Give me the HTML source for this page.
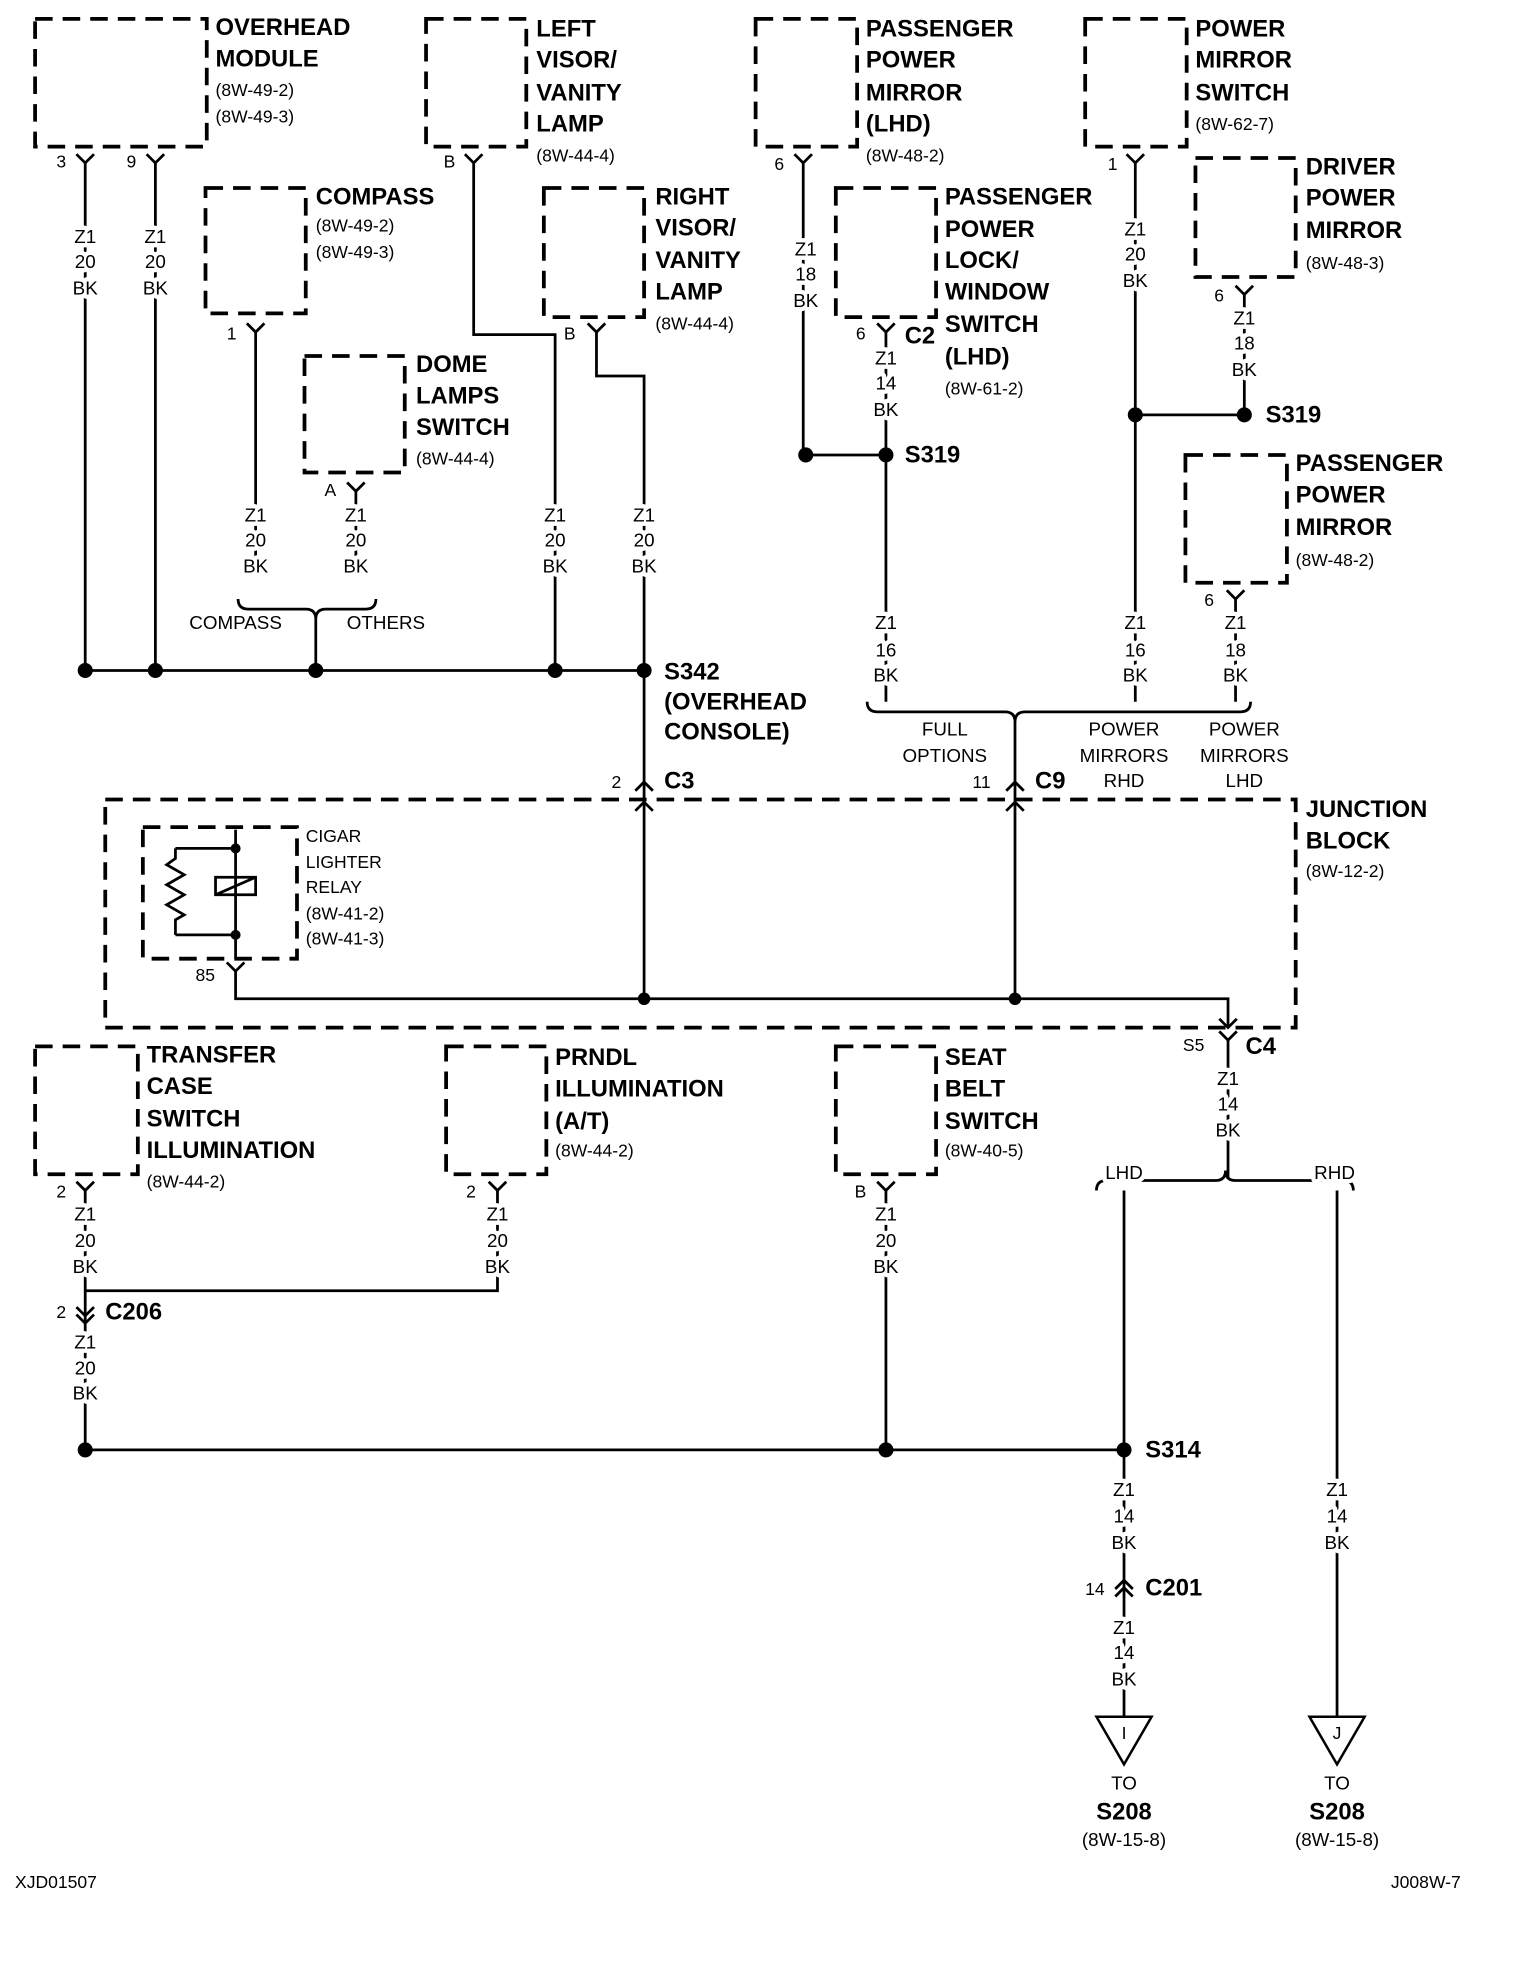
<!DOCTYPE html>
<html><head><meta charset="utf-8"><style>
html,body{margin:0;padding:0;background:#fff;}
svg{display:block;}
.b{font-family:"Liberation Sans",sans-serif;font-weight:bold;font-size:19px;fill:#000;}
.s{font-family:"Liberation Sans",sans-serif;font-size:14px;fill:#000;}
.w{font-family:"Liberation Sans",sans-serif;font-size:15px;fill:#000;text-anchor:middle;stroke:#fff;stroke-width:7;paint-order:stroke;stroke-linejoin:round;}
.d{fill:none;stroke:#000;stroke-width:3;stroke-dasharray:14 8;}
.l{fill:none;stroke:#000;stroke-width:2.2;}
</style></head><body>
<svg width="1520" height="1970" viewBox="0 0 1213 1572" xmlns="http://www.w3.org/2000/svg">
<rect width="1213" height="1572" fill="#fff"/>
<g dominant-baseline="middle">
<rect class="d" x="28" y="15" width="137" height="102"/>
<rect class="d" x="340" y="15" width="80" height="102"/>
<rect class="d" x="164" y="150" width="80" height="100"/>
<rect class="d" x="243" y="284" width="80" height="93"/>
<rect class="d" x="434" y="150" width="80" height="103"/>
<rect class="d" x="603" y="15" width="81" height="102"/>
<rect class="d" x="667" y="150" width="80" height="103"/>
<rect class="d" x="866" y="15" width="81" height="102"/>
<rect class="d" x="954" y="126" width="80" height="95"/>
<rect class="d" x="946" y="363" width="81" height="102"/>
<rect class="d" x="84" y="638" width="950" height="182"/>
<rect class="d" x="114" y="660" width="123" height="105"/>
<rect class="d" x="28" y="835" width="82" height="102"/>
<rect class="d" x="356" y="835" width="80" height="102"/>
<rect class="d" x="667" y="835" width="80" height="102"/>

<text class="b" x="172" y="23">OVERHEAD</text><text class="b" x="172" y="48">MODULE</text>
<text class="s" x="172" y="73">(8W-49-2)</text><text class="s" x="172" y="94">(8W-49-3)</text>
<text class="b" x="428" y="24">LEFT</text><text class="b" x="428" y="49">VISOR/</text><text class="b" x="428" y="75">VANITY</text><text class="b" x="428" y="100">LAMP</text><text class="s" x="428" y="125">(8W-44-4)</text>
<text class="b" x="252" y="158">COMPASS</text><text class="s" x="252" y="181">(8W-49-2)</text><text class="s" x="252" y="202">(8W-49-3)</text>
<text class="b" x="332" y="292">DOME</text><text class="b" x="332" y="317">LAMPS</text><text class="b" x="332" y="342">SWITCH</text><text class="s" x="332" y="367">(8W-44-4)</text>
<text class="b" x="523" y="158">RIGHT</text><text class="b" x="523" y="183">VISOR/</text><text class="b" x="523" y="209">VANITY</text><text class="b" x="523" y="234">LAMP</text><text class="s" x="523" y="259">(8W-44-4)</text>
<text class="b" x="691" y="24">PASSENGER</text><text class="b" x="691" y="49">POWER</text><text class="b" x="691" y="75">MIRROR</text><text class="b" x="691" y="100">(LHD)</text><text class="s" x="691" y="125">(8W-48-2)</text>
<text class="b" x="754" y="158">PASSENGER</text><text class="b" x="754" y="184">POWER</text><text class="b" x="754" y="209">LOCK/</text><text class="b" x="754" y="234">WINDOW</text><text class="b" x="754" y="260">SWITCH</text><text class="b" x="754" y="286">(LHD)</text><text class="s" x="754" y="311">(8W-61-2)</text>
<text class="b" x="954" y="24">POWER</text><text class="b" x="954" y="49">MIRROR</text><text class="b" x="954" y="75">SWITCH</text><text class="s" x="954" y="100">(8W-62-7)</text>
<text class="b" x="1042" y="134">DRIVER</text><text class="b" x="1042" y="159">POWER</text><text class="b" x="1042" y="185">MIRROR</text><text class="s" x="1042" y="211">(8W-48-3)</text>
<text class="b" x="1034" y="371">PASSENGER</text><text class="b" x="1034" y="396">POWER</text><text class="b" x="1034" y="422">MIRROR</text><text class="s" x="1034" y="448">(8W-48-2)</text>
<text class="b" x="1042" y="647">JUNCTION</text><text class="b" x="1042" y="672">BLOCK</text><text class="s" x="1042" y="696">(8W-12-2)</text>
<text class="s" x="244" y="668">CIGAR</text><text class="s" x="244" y="689">LIGHTER</text><text class="s" x="244" y="709">RELAY</text><text class="s" x="244" y="730">(8W-41-2)</text><text class="s" x="244" y="750">(8W-41-3)</text>
<text class="b" x="117" y="843">TRANSFER</text><text class="b" x="117" y="868">CASE</text><text class="b" x="117" y="894">SWITCH</text><text class="b" x="117" y="919">ILLUMINATION</text><text class="s" x="117" y="944">(8W-44-2)</text>
<text class="b" x="443" y="845">PRNDL</text><text class="b" x="443" y="870">ILLUMINATION</text><text class="b" x="443" y="896">(A/T)</text><text class="s" x="443" y="919">(8W-44-2)</text>
<text class="b" x="754" y="845">SEAT</text><text class="b" x="754" y="870">BELT</text><text class="b" x="754" y="896">SWITCH</text><text class="s" x="754" y="919">(8W-40-5)</text>

<g class="l">
<path d="M68 130V535M124 130V535M378 130V267H443V535M204 265V455M284 392V455M476 265V300H514V797M68 535H514"/>
<path d="M190 478q0 8 8 8h46q8 0 8 8q0-8 8-8h32q8 0 8-8M252 494V535"/>
<path d="M641 130V363H707M707 265V560M906 130V560M906 331H993M993 235V331M986 478V560"/>
<path d="M692 560q0 8 8 8h102q8 0 8 8q0-8 8-8h172q8 0 8-8M810 576V797"/>
<path d="M188 775V797H980V820"/>
<path d="M980 830V940M875 950q0-8 8-8h87q8 0 8-8q0 8 8 8h86q8 0 8 8M897 950V1370M1067 950V1370"/>
<path d="M68 950V1157M397 950V1030H68M707 950V1157M68 1157H897"/>
<path d="M61 123L68 130L75 123M117 123L124 130L131 123M371 123L378 130L385 123M634 123L641 130L648 123M899 123L906 130L913 123M197 258L204 265L211 258M469 258L476 265L483 258M700 258L707 265L714 258M986 228L993 235L1000 228M277 385L284 392L291 385M979 471L986 478L993 471M181 768L188 775L195 768M973 823L980 830L987 823M61 943L68 950L75 943M390 943L397 950L404 943M700 943L707 950L714 943M973 813L980 820L987 813"/>
<path d="M507 631L514 624L521 631M507 647L514 640L521 647M803 631L810 624L817 631M803 647L810 640L817 647"/>
<path d="M61 1043L68 1050L75 1043M61 1049L68 1056L75 1049M890 1268L897 1261L904 1268M890 1274L897 1267L904 1274"/>
<path d="M140 677H188M140 746H188M188 662V765M140 677V685l-7 5 14 8-14 8 14 8-14 8 14 8-7 4V746M172 700h32v14h-32zM172 714L204 700"/>
</g>
<g fill="#000">
<circle cx="68" cy="535" r="6"/><circle cx="124" cy="535" r="6"/><circle cx="252" cy="535" r="6"/><circle cx="443" cy="535" r="6"/><circle cx="514" cy="535" r="6"/>
<circle cx="643" cy="363" r="6"/><circle cx="707" cy="363" r="6"/><circle cx="906" cy="331" r="6"/><circle cx="993" cy="331" r="6"/>
<circle cx="514" cy="797" r="5"/><circle cx="810" cy="797" r="5"/><circle cx="188" cy="677" r="4"/><circle cx="188" cy="746" r="4"/>
<circle cx="68" cy="1157" r="6"/><circle cx="707" cy="1157" r="6"/><circle cx="897" cy="1157" r="6"/>
</g>
<path d="M875 1370h44l-22 38z M1045 1370h44l-22 38z" fill="none" stroke="#000" stroke-width="2"/>
<text class="s" x="897" y="1384" text-anchor="middle">I</text><text class="s" x="1067" y="1384" text-anchor="middle">J</text>

<text class="s" x="45" y="130">3</text><text class="s" x="101" y="130">9</text><text class="s" x="354" y="130">B</text>
<text class="s" x="618" y="132">6</text><text class="s" x="884" y="132">1</text><text class="s" x="181" y="267">1</text>
<text class="s" x="450" y="267">B</text><text class="s" x="683" y="267">6</text><text class="b" x="722" y="269">C2</text>
<text class="s" x="969" y="237">6</text><text class="s" x="259" y="392">A</text><text class="s" x="961" y="480">6</text>
<text class="s" x="488" y="625">2</text><text class="b" x="530" y="624">C3</text>
<text class="s" x="776" y="625">11</text><text class="b" x="826" y="624">C9</text>
<text class="s" x="156" y="779">85</text><text class="s" x="944" y="835">S5</text><text class="b" x="994" y="836">C4</text>
<text class="s" x="45" y="952">2</text><text class="s" x="372" y="952">2</text><text class="s" x="682" y="952">B</text>
<text class="s" x="45" y="1048">2</text><text class="b" x="84" y="1048">C206</text>
<text class="s" x="866" y="1269">14</text><text class="b" x="914" y="1268">C201</text>
<text class="b" x="722" y="364">S319</text><text class="b" x="1010" y="332">S319</text>
<text class="b" x="530" y="537">S342</text><text class="b" x="530" y="561">(OVERHEAD</text><text class="b" x="530" y="585">CONSOLE)</text>
<text class="b" x="914" y="1158">S314</text>

<g class="w">
<text x="68" y="190">Z1</text><text x="68" y="210">20</text><text x="68" y="231">BK</text>
<text x="124" y="190">Z1</text><text x="124" y="210">20</text><text x="124" y="231">BK</text>
<text x="204" y="412">Z1</text><text x="204" y="432">20</text><text x="204" y="453">BK</text>
<text x="284" y="412">Z1</text><text x="284" y="432">20</text><text x="284" y="453">BK</text>
<text x="443" y="412">Z1</text><text x="443" y="432">20</text><text x="443" y="453">BK</text>
<text x="514" y="412">Z1</text><text x="514" y="432">20</text><text x="514" y="453">BK</text>
<text x="643" y="200">Z1</text><text x="643" y="220">18</text><text x="643" y="241">BK</text>
<text x="707" y="287">Z1</text><text x="707" y="307">14</text><text x="707" y="328">BK</text>
<text x="906" y="184">Z1</text><text x="906" y="204">20</text><text x="906" y="225">BK</text>
<text x="993" y="255">Z1</text><text x="993" y="275">18</text><text x="993" y="296">BK</text>
<text x="707" y="498">Z1</text><text x="707" y="520">16</text><text x="707" y="540">BK</text>
<text x="906" y="498">Z1</text><text x="906" y="520">16</text><text x="906" y="540">BK</text>
<text x="986" y="498">Z1</text><text x="986" y="520">18</text><text x="986" y="540">BK</text>
<text x="980" y="862">Z1</text><text x="980" y="882">14</text><text x="980" y="903">BK</text>
<text x="68" y="970">Z1</text><text x="68" y="991">20</text><text x="68" y="1012">BK</text>
<text x="397" y="970">Z1</text><text x="397" y="991">20</text><text x="397" y="1012">BK</text>
<text x="707" y="970">Z1</text><text x="707" y="991">20</text><text x="707" y="1012">BK</text>
<text x="68" y="1072">Z1</text><text x="68" y="1093">20</text><text x="68" y="1113">BK</text>
<text x="897" y="1190">Z1</text><text x="897" y="1211">14</text><text x="897" y="1232">BK</text>
<text x="1067" y="1190">Z1</text><text x="1067" y="1211">14</text><text x="1067" y="1232">BK</text>
<text x="897" y="1300">Z1</text><text x="897" y="1320">14</text><text x="897" y="1341">BK</text>
<text x="188" y="498">COMPASS</text><text x="308" y="498">OTHERS</text>
<text x="754" y="583">FULL</text><text x="754" y="604">OPTIONS</text>
<text x="897" y="583">POWER</text><text x="897" y="604">MIRRORS</text><text x="897" y="624">RHD</text>
<text x="993" y="583">POWER</text><text x="993" y="604">MIRRORS</text><text x="993" y="624">LHD</text>
<text x="897" y="937">LHD</text><text x="1065" y="937">RHD</text>
<text x="897" y="1424">TO</text><text x="1067" y="1424">TO</text>
<text x="897" y="1469">(8W-15-8)</text><text x="1067" y="1469">(8W-15-8)</text>
</g>
<text class="b" x="897" y="1447" text-anchor="middle">S208</text><text class="b" x="1067" y="1447" text-anchor="middle">S208</text>
<text class="s" x="12" y="1503">XJD01507</text><text class="s" x="1110" y="1503">J008W-7</text>
</g>
</svg>
</body></html>
